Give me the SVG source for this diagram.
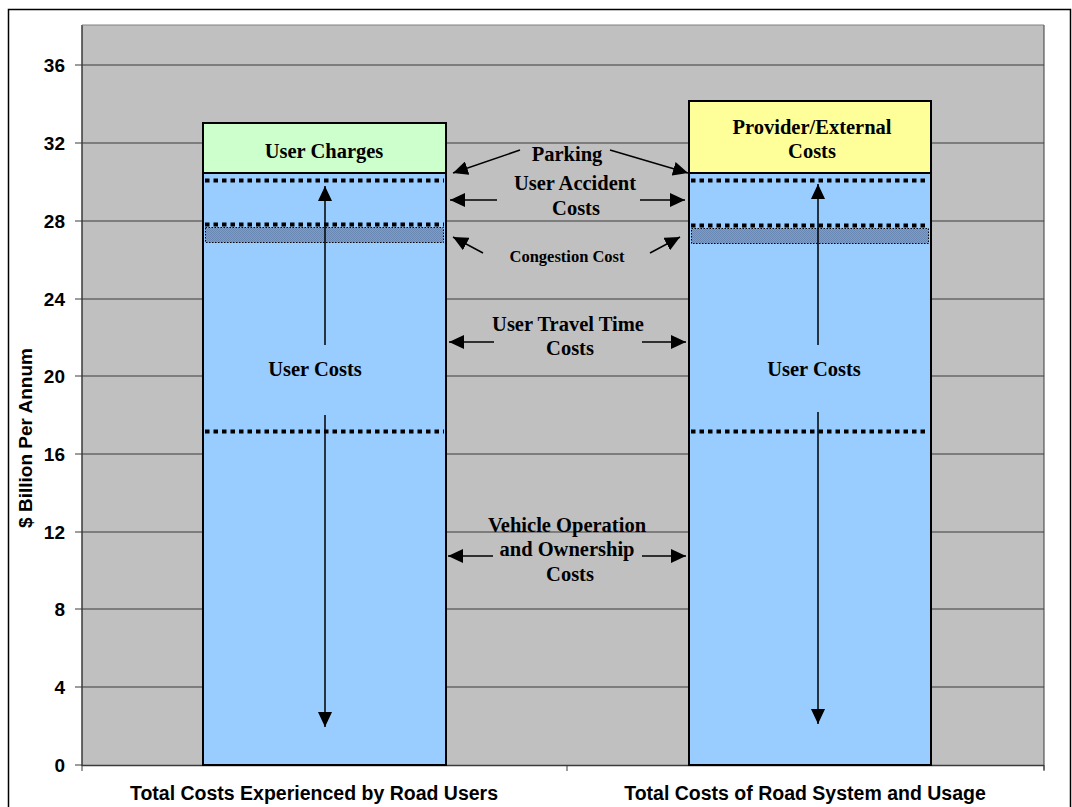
<svg xmlns="http://www.w3.org/2000/svg" width="1072" height="807" viewBox="0 0 1072 807">
<defs>
<style>
.grid{stroke:#3a3a3a;stroke-width:1}
.tick{stroke:#3a3a3a;stroke-width:1}
.ylab{font-family:"Liberation Sans",Arial,sans-serif;font-weight:bold;font-size:19px;fill:#000;text-anchor:end}
.cat{font-family:"Liberation Sans",Arial,sans-serif;font-weight:bold;font-size:19.5px;fill:#000;text-anchor:middle}
.ttl{font-family:"Liberation Sans",Arial,sans-serif;font-weight:bold;font-size:19px;fill:#000;text-anchor:middle}
.lbl{font-family:"Liberation Serif","Times New Roman",serif;font-weight:bold;font-size:20.5px;fill:#000;text-anchor:middle}
.sm{font-family:"Liberation Serif","Times New Roman",serif;font-weight:bold;font-size:16.5px;fill:#000;text-anchor:middle}
.bar{stroke:#000;stroke-width:2}
.dot{stroke:#000;stroke-width:4;stroke-dasharray:4.5 4}
.hatch{fill:url(#hp);stroke:#000;stroke-width:1;stroke-dasharray:1.5 1.5}
.arr{stroke:#000;stroke-width:1.5;fill:none;marker-end:url(#ah)}
</style>
<marker id="ah" markerUnits="userSpaceOnUse" markerWidth="16" markerHeight="14" refX="15" refY="7" orient="auto">
<path d="M0,0 L15,7 L0,14 z" fill="#000"/>
</marker>
<pattern id="hp" width="2" height="2" patternUnits="userSpaceOnUse">
<rect width="2" height="2" fill="#7d9cc6"/>
<rect width="1" height="1" fill="#6a88b4"/>
<rect x="1" y="1" width="1" height="1" fill="#6a88b4"/>
</pattern>
</defs>
<rect x="0" y="0" width="1072" height="807" fill="#fff"/>
<rect x="8.5" y="9.5" width="1062" height="810" fill="#fff" stroke="#000" stroke-width="1.5"/>
<g id="plot">
<rect x="82" y="25" width="962" height="740" fill="#c0c0c0"/>
<line x1="82" y1="25" x2="82" y2="766" stroke="#3a3a3a" stroke-width="1.5"/>
<line x1="1044" y1="25" x2="1044" y2="770" stroke="#3a3a3a" stroke-width="1"/>
<line x1="82" y1="25" x2="1044" y2="25" stroke="#808080" stroke-width="1"/>
<g class="grid">
<line x1="82" y1="687" x2="1044" y2="687"/>
<line x1="82" y1="609" x2="1044" y2="609"/>
<line x1="82" y1="532" x2="1044" y2="532"/>
<line x1="82" y1="454" x2="1044" y2="454"/>
<line x1="82" y1="376" x2="1044" y2="376"/>
<line x1="82" y1="299" x2="1044" y2="299"/>
<line x1="82" y1="221" x2="1044" y2="221"/>
<line x1="82" y1="143" x2="1044" y2="143"/>
<line x1="82" y1="65" x2="1044" y2="65"/>
</g>
<g class="tick">
<line x1="75" y1="765" x2="82" y2="765"/>
<line x1="75" y1="687" x2="82" y2="687"/>
<line x1="75" y1="609" x2="82" y2="609"/>
<line x1="75" y1="532" x2="82" y2="532"/>
<line x1="75" y1="454" x2="82" y2="454"/>
<line x1="75" y1="376" x2="82" y2="376"/>
<line x1="75" y1="299" x2="82" y2="299"/>
<line x1="75" y1="221" x2="82" y2="221"/>
<line x1="75" y1="143" x2="82" y2="143"/>
<line x1="75" y1="65" x2="82" y2="65"/>
<line x1="82" y1="765" x2="82" y2="771"/>
<line x1="567" y1="765" x2="567" y2="771"/>
<line x1="1044" y1="765" x2="1044" y2="771"/>
</g>
<line x1="82" y1="765.5" x2="1044" y2="765.5" stroke="#3a3a3a" stroke-width="1.5"/>
<g class="ylab">
<text x="65" y="772">0</text>
<text x="65" y="694">4</text>
<text x="65" y="616">8</text>
<text x="65" y="539">12</text>
<text x="65" y="461">16</text>
<text x="65" y="383">20</text>
<text x="65" y="306">24</text>
<text x="65" y="228">28</text>
<text x="65" y="150">32</text>
<text x="65" y="72">36</text>
</g>
<text class="ttl" transform="translate(32,438) rotate(-90)">$ Billion Per Annum</text>
<text class="cat" x="314" y="800">Total Costs Experienced by Road Users</text>
<text class="cat" x="805" y="800">Total Costs of Road System and Usage</text>
</g>
<g id="bar-road-users">
<rect class="bar" x="203" y="173" width="243" height="592" fill="#99ccff"/>
<rect class="bar" x="203" y="123" width="243" height="50" fill="#ccffcc"/>
<line class="dot" x1="205" y1="180.5" x2="444" y2="180.5"/>
<line class="dot" x1="205" y1="224.5" x2="444" y2="224.5"/>
<rect class="hatch" x="205.5" y="227.5" width="238" height="15"/>
<line class="dot" x1="205" y1="431.5" x2="444" y2="431.5"/>
<text class="lbl" x="324" y="158">User Charges</text>
<text class="lbl" x="315" y="376">User Costs</text>
</g>
<g id="bar-road-system">
<rect class="bar" x="689" y="173" width="242" height="592" fill="#99ccff"/>
<rect class="bar" x="689" y="101" width="242" height="72" fill="#ffff99"/>
<line class="dot" x1="691" y1="180.5" x2="929" y2="180.5"/>
<line class="dot" x1="691" y1="225.5" x2="929" y2="225.5"/>
<rect class="hatch" x="691.5" y="228.5" width="237" height="15"/>
<line class="dot" x1="691" y1="431.5" x2="929" y2="431.5"/>
<text class="lbl" x="812" y="134">Provider/External</text>
<text class="lbl" x="812" y="158">Costs</text>
<text class="lbl" x="814" y="376">User Costs</text>
</g>
<g id="middle-labels">
<text class="lbl" x="567" y="161">Parking</text>
<text class="lbl" x="575" y="190">User Accident</text>
<text class="lbl" x="576" y="215">Costs</text>
<text class="sm" x="567" y="262">Congestion Cost</text>
<text class="lbl" x="568" y="331">User Travel Time</text>
<text class="lbl" x="570" y="355">Costs</text>
<text class="lbl" x="567" y="532">Vehicle Operation</text>
<text class="lbl" x="567" y="556">and Ownership</text>
<text class="lbl" x="570" y="581">Costs</text>
</g>
<g id="connectors">
<line class="arr" x1="325" y1="345" x2="325" y2="186"/>
<line class="arr" x1="325" y1="415" x2="325" y2="727"/>
<line class="arr" x1="818" y1="345" x2="818" y2="184"/>
<line class="arr" x1="818" y1="412" x2="818" y2="724"/>
<line class="arr" x1="520" y1="150" x2="453" y2="173"/>
<line class="arr" x1="610" y1="150" x2="688" y2="173"/>
<line class="arr" x1="497" y1="200" x2="450" y2="200"/>
<line class="arr" x1="640" y1="200" x2="685" y2="200"/>
<line class="arr" x1="483" y1="253" x2="453" y2="237"/>
<line class="arr" x1="650" y1="253" x2="680" y2="237"/>
<line class="arr" x1="494" y1="342" x2="449" y2="342"/>
<line class="arr" x1="642" y1="342" x2="686" y2="342"/>
<line class="arr" x1="493" y1="556" x2="448" y2="556"/>
<line class="arr" x1="642" y1="556" x2="686" y2="556"/>
</g>
</svg>
